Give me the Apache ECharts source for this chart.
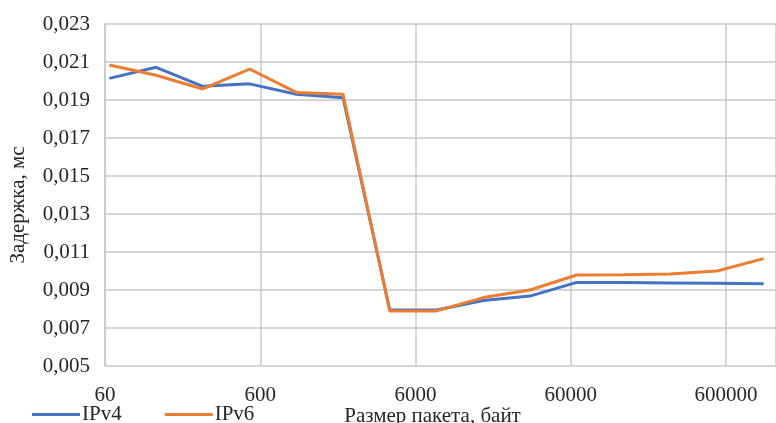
<!DOCTYPE html>
<html><head><meta charset="utf-8">
<script src="https://cdn.jsdelivr.net/npm/echarts@6/dist/echarts.min.js"></script>
<style>html,body{margin:0;padding:0;background:#fff}#c{width:776px;height:423px}</style>
</head><body><div id="c"></div>
<script>
const sizes = [64,128,256,512,1024,2048,4096,8192,16384,32768,65536,131072,262144,524288,1048576];
const ipv4 = [0.02014,0.02072,0.01972,0.01985,0.0193,0.01912,0.00795,0.00795,0.00845,0.00868,0.0094,0.00939,0.00937,0.00935,0.00933];
const ipv6 = [0.02084,0.02030,0.01958,0.02063,0.0194,0.0193,0.00790,0.00790,0.00860,0.00900,0.00979,0.00980,0.00984,0.01000,0.01065];
const xTickLabels = ['60','600','6000','60000','600000'];
const yTicks = [0.005,0.007,0.009,0.011,0.013,0.015,0.017,0.019,0.021,0.023];
const base = 60;
const toX = s => Math.log10(s / base);
const font = '"Liberation Serif", "Times New Roman", serif';
const txt = '#262626';
const chart = echarts.init(document.getElementById('c'));
chart.setOption({
  animation: false,
  grid: {left: 105, right: 0, top: 24, bottom: 57, containLabel: false, outerBoundsMode: 'none'},
  legend: {
    left: 32, top: 404, padding: 0, itemWidth: 48, itemHeight: 3, icon: 'rect', itemGap: 43,
    textStyle: {fontFamily: font, fontSize: 21, color: txt, padding: [0,0,0,-3], verticalAlign: 'bottom', lineHeight: 4},
    data: ['IPv4','IPv6']
  },
  xAxis: {
    type: 'value', min: 0, max: 4.322, interval: 1,
    axisLine: {show: false}, axisTick: {show: false},
    splitLine: {show: true, lineStyle: {color: '#c8c8c8', width: 1.5}},
    axisLabel: {fontFamily: font, fontSize: 21, color: txt, margin: 19, showMaxLabel: false,
      formatter: v => { const i = Math.round(v); return Math.abs(v - i) < 1e-6 ? xTickLabels[i] : ''; }},
    name: 'Размер пакета, байт', nameLocation: 'middle', nameGap: 40, nameMoveOverlap: false,
    nameTextStyle: {fontFamily: font, fontSize: 21, color: txt, padding: [0,16,0,0]}
  },
  yAxis: {
    type: 'value', min: yTicks[0], max: yTicks[yTicks.length-1], interval: 0.002,
    axisLine: {show: true, lineStyle: {color: '#c8c8c8', width: 1.5}}, axisTick: {show: false},
    splitLine: {show: true, lineStyle: {color: '#c8c8c8', width: 1.5}},
    axisLabel: {fontFamily: font, fontSize: 21, color: txt, margin: 15,
      formatter: v => v.toFixed(3).replace('.', ',')},
    name: 'Задержка, мс', nameLocation: 'middle', nameGap: 76, nameRotate: 90, nameMoveOverlap: false,
    nameTextStyle: {fontFamily: font, fontSize: 21, color: txt, padding: [0,20,0,0]}
  },
  series: [
    {name: 'IPv4', type: 'line', showSymbol: false, symbol: 'none', color: '#4472C4',
     lineStyle: {width: 3, color: '#4472C4'}, data: sizes.map((s,i) => [toX(s), ipv4[i]])},
    {name: 'IPv6', type: 'line', showSymbol: false, symbol: 'none', color: '#ED7D31',
     lineStyle: {width: 3, color: '#ED7D31'}, data: sizes.map((s,i) => [toX(s), ipv6[i]])}
  ]
});
</script></body></html>
